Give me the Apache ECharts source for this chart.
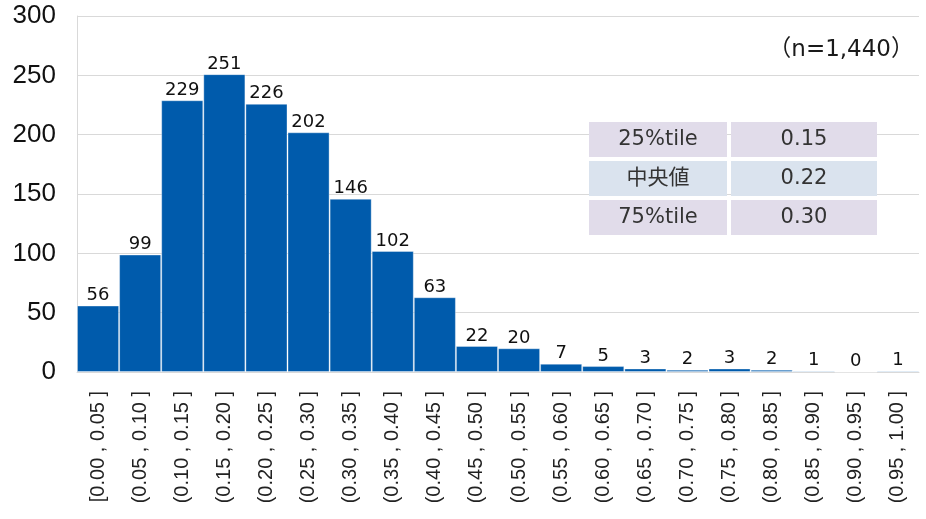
<!DOCTYPE html>
<html lang="ja">
<head>
  <meta charset="UTF-8">
  <title>ヒストグラム</title>
  <style>
    html, body { margin: 0; padding: 0; background: #fff; }
    #main { width: 926px; height: 519px; }
  </style>
  <script src="https://cdn.jsdelivr.net/npm/echarts@6/dist/echarts.min.js"></script>
</head>
<body>
  <div id="main"></div>
  <script>
    // 階級
    var categories = ['[0.00 , 0.05 ]', '(0.05 , 0.10 ]', '(0.10 , 0.15 ]', '(0.15 , 0.20 ]', '(0.20 , 0.25 ]',
      '(0.25 , 0.30 ]', '(0.30 , 0.35 ]', '(0.35 , 0.40 ]', '(0.40 , 0.45 ]', '(0.45 , 0.50 ]',
      '(0.50 , 0.55 ]', '(0.55 , 0.60 ]', '(0.60 , 0.65 ]', '(0.65 , 0.70 ]', '(0.70 , 0.75 ]',
      '(0.75 , 0.80 ]', '(0.80 , 0.85 ]', '(0.85 , 0.90 ]', '(0.90 , 0.95 ]', '(0.95 , 1.00 ]'];
    // 度数
    var counts = [56, 99, 229, 251, 226, 202, 146, 102, 63, 22, 20, 7, 5, 3, 2, 3, 2, 1, 0, 1];
    // 要約統計量の表
    var statLabels = ['25%tile', '中央値', '75%tile'];
    var statValues = ['0.15', '0.22', '0.30'];
    var sampleText = '（n=1,440）';

    var myChart = echarts.init(document.getElementById('main'));

    var tableFamily = '"DejaVu Sans", "Noto Sans CJK JP", sans-serif';

    // 表を graphic で組み立てる
    var tableItems = [];
    var rowColors = ['#e1dcea', '#dae3ee', '#e1dcea'];
    for (var i = 0; i < statLabels.length; i++) {
      var y = 122 + i * 39;
      tableItems.push({
        type: 'rect', left: 589, top: y, z: 100,
        shape: { width: 138, height: 35 },
        style: { fill: rowColors[i] }
      });
      tableItems.push({
        type: 'rect', left: 731, top: y, z: 100,
        shape: { width: 146, height: 35 },
        style: { fill: rowColors[i] }
      });
      tableItems.push({
        type: 'text', x: 658, y: y + 18, z: 101,
        style: { text: statLabels[i], fill: '#333', fontSize: 21, fontFamily: tableFamily, align: 'center', verticalAlign: 'middle' }
      });
      tableItems.push({
        type: 'text', x: 804, y: y + 18, z: 101,
        style: { text: statValues[i], fill: '#333', fontSize: 21, fontFamily: tableFamily, align: 'center', verticalAlign: 'middle' }
      });
    }
    // サンプル数
    tableItems.push({
      type: 'text', x: 914, y: 50, z: 101,
      style: { text: sampleText, fill: '#1a1a1a', fontSize: 23, fontFamily: tableFamily, align: 'right', verticalAlign: 'middle' }
    });

    var option = {
      animation: false,
      grid: { left: 77, right: 7, top: 16, bottom: 147 },
      xAxis: {
        type: 'category',
        data: categories,
        axisTick: { show: false },
        axisLine: { show: true, lineStyle: { color: '#d9d9d9' } },
        axisLabel: {
          rotate: 90,
          interval: 0,
          margin: 19,
          fontSize: 20,
          color: '#222',
          fontFamily: 'Liberation Sans'
        }
      },
      yAxis: {
        type: 'value',
        min: 0,
        max: 300,
        interval: 50,
        axisLine: { show: true, lineStyle: { color: '#d9d9d9' } },
        axisTick: { show: false },
        splitLine: { lineStyle: { color: '#d9d9d9', width: 1 } },
        axisLabel: {
          fontSize: 26,
          color: '#111',
          margin: 21,
          fontFamily: 'Liberation Sans'
        }
      },
      series: [{
        type: 'bar',
        data: counts,
        barCategoryGap: 0,
        itemStyle: {
          color: '#005bac',
          borderColor: 'rgba(255,255,255,0.35)',
          borderWidth: 1
        },
        label: {
          show: true,
          position: 'top',
          distance: 1,
          fontSize: 18,
          color: '#111',
          fontFamily: 'DejaVu Sans'
        }
      }],
      graphic: tableItems
    };

    myChart.setOption(option);
  </script>
</body>
</html>
